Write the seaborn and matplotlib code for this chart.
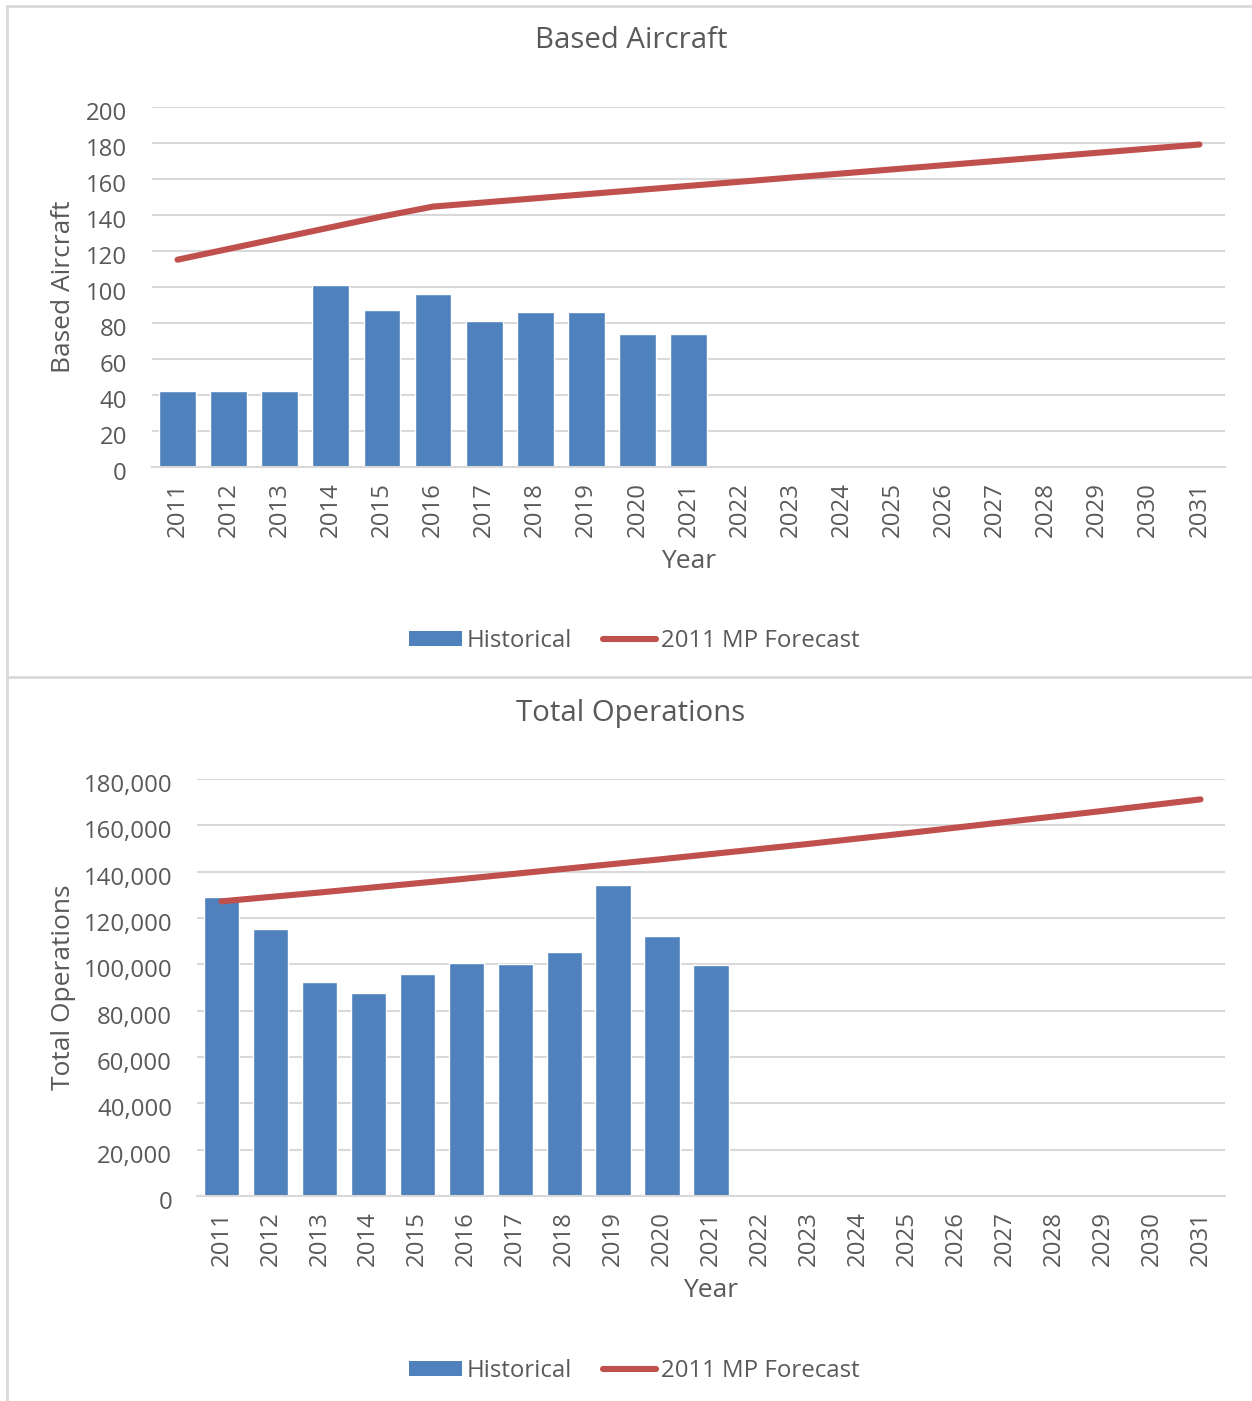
import numpy as np
import pandas as pd
import matplotlib
matplotlib.use("Agg")
import matplotlib.pyplot as plt
import matplotlib.transforms as mtransforms
from matplotlib.lines import Line2D
from matplotlib.patches import Patch
from matplotlib.ticker import FuncFormatter, MultipleLocator
import seaborn as sns

# ---- data ----
years = list(range(2011, 2032))
hist_years = list(range(2011, 2022))

aircraft_hist = [42, 42, 42, 101, 87, 96, 81, 86, 86, 74, 74]
aircraft_forecast = [115, 121, 127, 133, 139, 144.5, 146.8, 149.1, 151.4, 153.7,
                     156, 158.3, 160.6, 162.9, 165.2, 167.5, 169.8, 172.1, 174.4,
                     176.7, 179]

ops_hist = [129100, 115300, 92400, 87600, 95800, 100600, 100100, 105300,
            134200, 112200, 99700]
ops_forecast = [127200, 129100, 131000, 133000, 135000, 137000, 139100, 141200,
                143300, 145400, 147600, 149800, 152000, 154300, 156600, 159000,
                161400, 163800, 166200, 168700, 171200]

titles = ["Based Aircraft", "Total Operations"]
ylabels = ["Based Aircraft", "Total Operations"]
legend_labels = ["Historical", "2011 MP Forecast"]

# ---- style ----
sns.set_theme(style="white")
plt.rcParams["font.family"] = ["Open Sans", "DejaVu Sans"]
TXT = "#595959"
GRID = "#d9d9d9"
BAR = "#4F81BD"
LINE = "#C0504D"

W, H = 1252, 1401
fig = plt.figure(figsize=(W / 100, H / 100), dpi=100)


def px_axes(left, top, right, bottom):
    return fig.add_axes([left / W, 1 - bottom / H, (right - left) / W, (bottom - top) / H])


def draw_panel(ax, hist, forecast, ymax, ystep, ylabel, fmt, ylab_x, xlab_y):
    hist_df = pd.DataFrame({"Year": hist_years, "Value": hist})
    fc_df = pd.DataFrame({"Year": years, "Value": forecast})
    sns.barplot(data=hist_df, x="Year", y="Value", native_scale=True,
                width=0.72, color=BAR, saturation=1, ax=ax, zorder=2)
    sns.lineplot(data=fc_df, x="Year", y="Value", color=LINE, linewidth=4.4,
                 ax=ax, zorder=3, solid_capstyle="round")
    ax.set_xlim(2010.5, 2031.5)
    ax.set_ylim(0, ymax)
    ax.yaxis.set_major_locator(MultipleLocator(ystep))
    ax.yaxis.set_major_formatter(FuncFormatter(fmt))
    ax.set_xticks(years)
    ax.set_xticklabels([str(y) for y in years], rotation=90)
    ax.grid(axis="y", color=GRID, linewidth=1.5, zorder=0)
    ax.set_axisbelow(True)
    for s in ["top", "right", "left"]:
        ax.spines[s].set_visible(False)
    ax.spines["bottom"].set_color(GRID)
    ax.spines["bottom"].set_linewidth(1.5)
    ax.tick_params(axis="both", length=0, labelsize=17.3, colors=TXT)
    ax.tick_params(axis="x", pad=11)
    ax.tick_params(axis="y", pad=18)
    # value labels sit slightly below their gridlines
    shift = mtransforms.ScaledTranslation(0, -4 / 100, fig.dpi_scale_trans)
    for lbl in ax.get_yticklabels():
        lbl.set_transform(lbl.get_transform() + shift)
    ax.set_xlabel("Year", fontsize=19, color=TXT)
    ax.set_ylabel(ylabel, fontsize=19, color=TXT)
    ax.xaxis.set_label_coords(0.5, xlab_y)
    ax.yaxis.set_label_coords(ylab_x, 0.5)


ax1 = px_axes(152, 106.7, 1225, 466.7)
draw_panel(ax1, aircraft_hist, aircraft_forecast, 200, 20, ylabels[0],
           lambda v, p: f"{v:.0f}", -0.071, -0.229)

ax2 = px_axes(197, 779, 1225, 1196)
draw_panel(ax2, ops_hist, ops_forecast, 180000, 20000, ylabels[1],
           lambda v, p: f"{v:,.0f}", -0.118, -0.197)

# titles
fig.text(631 / W, 1 - 41 / H, titles[0], ha="center", va="center",
         fontsize=21.2, color=TXT)
fig.text(631 / W, 1 - 713 / H, titles[1], ha="center", va="center",
         fontsize=21.2, color=TXT)

# legends
handles = [Patch(facecolor=BAR, edgecolor="none"),
           Line2D([0], [0], color=LINE, linewidth=4.4, solid_capstyle="round")]
for ycen in (641, 1371):
    fig.legend(handles, legend_labels, loc="center", ncol=2,
               bbox_to_anchor=(634 / W, 1 - ycen / H), frameon=False,
               fontsize=17.3, labelcolor=TXT, handlelength=2.2,
               handleheight=0.6, handletextpad=0.2, columnspacing=1.3)

# chart frames
frame_kw = dict(color=GRID, linewidth=2, transform=fig.transFigure)
fig.add_artist(Line2D([7 / W, 1], [1 - 6 / H, 1 - 6 / H], **frame_kw))
fig.add_artist(Line2D([7 / W, 1], [1 - 677 / H, 1 - 677 / H], **frame_kw))
fig.add_artist(Line2D([7 / W, 7 / W], [0, 1 - 6 / H], **frame_kw))

fig.savefig("out.png", dpi=100, facecolor="white")
